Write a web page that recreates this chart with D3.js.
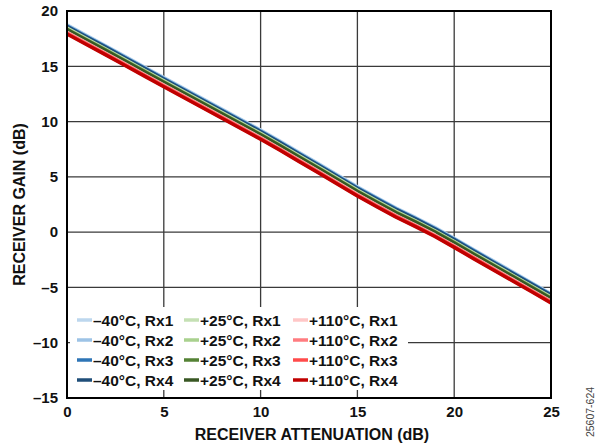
<!DOCTYPE html>
<html><head><meta charset="utf-8">
<script src="https://cdn.jsdelivr.net/npm/d3@7"></script>
<style>
html,body{margin:0;padding:0;background:#fff;}
svg{display:block;font-family:"Liberation Sans",Arial,sans-serif;}
</style></head>
<body>
<svg id="chart" width="603" height="448"></svg>
<script>
const attenuation = [0,1,2,3,4,5,6,7,8,9,10,11,12,13,14,15,16,17,18,19,20,21,22,23,24,25];

const gainM40Rx1 = [18.75,17.80,16.86,15.90,14.94,13.98,13.03,12.08,11.13,10.18,9.23,8.23,7.20,6.18,5.14,4.10,3.13,2.18,1.33,0.43,-0.55,-1.57,-2.57,-3.57,-4.57,-5.57];
const gainM40Rx2 = [18.70,17.75,16.81,15.85,14.89,13.93,12.98,12.03,11.08,10.13,9.18,8.18,7.15,6.13,5.09,4.05,3.08,2.13,1.28,0.38,-0.60,-1.62,-2.62,-3.62,-4.62,-5.62];
const gainM40Rx3 = [18.65,17.70,16.76,15.80,14.84,13.88,12.93,11.98,11.03,10.08,9.13,8.13,7.10,6.08,5.04,4.00,3.03,2.08,1.23,0.33,-0.65,-1.67,-2.67,-3.67,-4.67,-5.67];
const gainM40Rx4 = [18.60,17.65,16.71,15.75,14.79,13.83,12.88,11.93,10.98,10.03,9.08,8.08,7.05,6.03,4.99,3.95,2.98,2.03,1.18,0.28,-0.70,-1.72,-2.72,-3.72,-4.72,-5.72];

const gainP25Rx1 = [18.45,17.50,16.56,15.60,14.64,13.68,12.73,11.78,10.83,9.88,8.93,7.93,6.90,5.88,4.84,3.80,2.83,1.88,1.03,0.13,-0.85,-1.87,-2.87,-3.87,-4.87,-5.87];
const gainP25Rx2 = [18.40,17.45,16.51,15.55,14.59,13.63,12.68,11.73,10.78,9.83,8.88,7.88,6.85,5.83,4.79,3.75,2.78,1.83,0.98,0.08,-0.90,-1.92,-2.92,-3.92,-4.92,-5.92];
const gainP25Rx3 = [18.35,17.40,16.46,15.50,14.54,13.58,12.63,11.68,10.73,9.78,8.83,7.83,6.80,5.78,4.74,3.70,2.73,1.78,0.93,0.03,-0.95,-1.97,-2.97,-3.97,-4.97,-5.97];
const gainP25Rx4 = [18.30,17.35,16.41,15.45,14.49,13.53,12.58,11.63,10.68,9.73,8.78,7.78,6.75,5.73,4.69,3.65,2.68,1.73,0.88,-0.02,-1.00,-2.02,-3.02,-4.02,-5.02,-6.02];

const gainP110Rx1 = [18.07,17.12,16.18,15.22,14.26,13.30,12.35,11.40,10.45,9.50,8.55,7.55,6.52,5.50,4.46,3.42,2.45,1.50,0.65,-0.25,-1.23,-2.25,-3.25,-4.25,-5.25,-6.25];
const gainP110Rx2 = [18.02,17.07,16.13,15.17,14.21,13.25,12.30,11.35,10.40,9.45,8.50,7.50,6.47,5.45,4.41,3.37,2.40,1.45,0.60,-0.30,-1.28,-2.30,-3.30,-4.30,-5.30,-6.30];
const gainP110Rx3 = [17.97,17.02,16.08,15.12,14.16,13.20,12.25,11.30,10.35,9.40,8.45,7.45,6.42,5.40,4.36,3.32,2.35,1.40,0.55,-0.35,-1.33,-2.35,-3.35,-4.35,-5.35,-6.35];
const gainP110Rx4 = [17.92,16.97,16.03,15.07,14.11,13.15,12.20,11.25,10.30,9.35,8.40,7.40,6.37,5.35,4.31,3.27,2.30,1.35,0.50,-0.40,-1.38,-2.40,-3.40,-4.40,-5.40,-6.40];

const seriesNames = ["–40°C, Rx1","–40°C, Rx2","–40°C, Rx3","–40°C, Rx4",
                     "+25°C, Rx1","+25°C, Rx2","+25°C, Rx3","+25°C, Rx4",
                     "+110°C, Rx1","+110°C, Rx2","+110°C, Rx3","+110°C, Rx4"];
const seriesValues = [gainM40Rx1,gainM40Rx2,gainM40Rx3,gainM40Rx4,
                      gainP25Rx1,gainP25Rx2,gainP25Rx3,gainP25Rx4,
                      gainP110Rx1,gainP110Rx2,gainP110Rx3,gainP110Rx4];
const seriesColors = ["#bdd7ee","#9dc3e6","#2e75b6","#1f4e79",
                      "#c5e0b4","#a9d18e","#548235","#385723",
                      "#ffc7c7","#ff7c80","#ff4b4b","#c00000"];

const xTicks = [0,5,10,15,20,25];
const yTicks = [-15,-10,-5,0,5,10,15,20];
const xTickLabels = ["0","5","10","15","20","25"];
const yTickLabels = ["–15","–10","–5","0","5","10","15","20"];

const svg = d3.select("#chart");
const L = 67, R = 551, T = 11, B = 398;
const x = d3.scaleLinear().domain([0,25]).range([L,R]);
const y = d3.scaleLinear().domain([-15,20]).range([B,T]);

// gridlines
const grid = svg.append("g");
grid.selectAll("line.v").data(xTicks.slice(1,-1)).join("line")
  .attr("x1",d=>x(d)).attr("x2",d=>x(d)).attr("y1",T).attr("y2",B)
  .attr("stroke","#3a3a3a").attr("stroke-width",1.3);
grid.selectAll("line.h").data(yTicks.slice(1,-1)).join("line")
  .attr("x1",L).attr("x2",R).attr("y1",d=>y(d)).attr("y2",d=>y(d))
  .attr("stroke","#3a3a3a").attr("stroke-width",1.3);

// lines
const line = d3.line().x((d,i)=>x(attenuation[i])).y(d=>y(d));
svg.append("g").selectAll("path").data(seriesValues).join("path")
  .attr("d",d=>line(d)).attr("fill","none")
  .attr("stroke",(d,i)=>seriesColors[i]).attr("stroke-width",3.5)
  .attr("stroke-linejoin","round");

// legend
const lg = svg.append("g");
lg.append("rect").attr("x",70).attr("y",307).attr("width",338).attr("height",83).attr("fill","#fff");
const colX = [77,184,293];
const rowY = [320,340,360,380];
seriesNames.forEach((n,i)=>{
  const c = Math.floor(i/4), r = i%4;
  lg.append("line").attr("x1",colX[c]).attr("x2",colX[c]+15)
    .attr("y1",rowY[r]).attr("y2",rowY[r])
    .attr("stroke",seriesColors[i]).attr("stroke-width",3.5);
  lg.append("text").attr("x",colX[c]+16).attr("y",rowY[r]+5.5)
    .attr("font-size","15.5px").attr("font-weight","bold").attr("fill","#111").text(n);
});

// axes
const xAxis = d3.axisBottom(x).tickValues(xTicks).tickFormat((d,i)=>xTickLabels[i]).tickSize(0).tickPadding(8);
const yAxis = d3.axisLeft(y).tickValues(yTicks).tickFormat((d,i)=>yTickLabels[i]).tickSize(0).tickPadding(9);
const gx = svg.append("g").attr("transform",`translate(0,${B})`).call(xAxis);
const gy = svg.append("g").attr("transform",`translate(${L},0)`).call(yAxis);
[gx,gy].forEach(g=>{
  g.select(".domain").remove();
  g.selectAll("text").attr("font-size","15px").attr("font-weight","bold")
    .attr("font-family","Liberation Sans, Arial, sans-serif").attr("fill","#111");
});

// frame
svg.append("rect").attr("x",L).attr("y",T).attr("width",R-L).attr("height",B-T)
  .attr("fill","none").attr("stroke","#000").attr("stroke-width",2);

// titles
svg.append("text").attr("x",312).attr("y",439.5).attr("text-anchor","middle")
  .attr("font-size","16px").attr("font-weight","bold").attr("fill","#111")
  .text("RECEIVER ATTENUATION (dB)");
svg.append("text").attr("transform",`translate(25,${(T+B)/2}) rotate(-90)`)
  .attr("text-anchor","middle").attr("font-size","16px").attr("font-weight","bold").attr("fill","#111")
  .text("RECEIVER GAIN (dB)");
svg.append("text").attr("transform",`translate(594,412) rotate(-90)`)
  .attr("text-anchor","middle").attr("font-size","10.5px").attr("fill","#444")
  .text("25607-624");
</script>
</body></html>
